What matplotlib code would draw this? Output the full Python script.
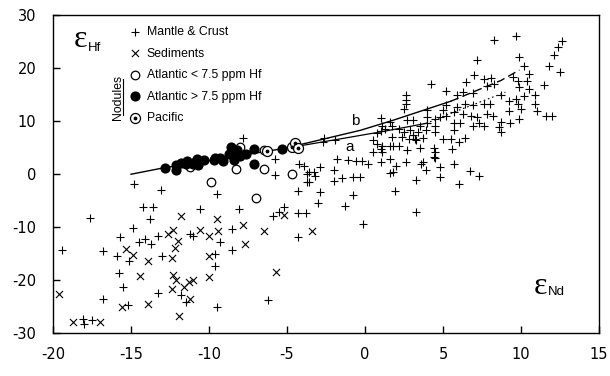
import matplotlib
matplotlib.use("Agg")
import matplotlib.pyplot as plt
from matplotlib.lines import Line2D

plt.rcParams["axes.unicode_minus"] = False

# ---------------- data ----------------
mantle_x = [-14.8, -13.1, -14.2, -13.6, -13.8, -17.6, -14.9, -15.7, -14.5, -14.1, -13.7, -13.3,
            -19.4, -16.8, -15.9, -15.1, -13.0, -15.8, -15.5, -16.8, -15.2, -13.3, -18.1, -18.0,
            -17.5, -11.8, -9.5, -10.6, -8.1, -11.2, -11.0, -8.5, -9.3, -9.6, -9.6, -8.5,
            -11.5, -9.5, -6.2, -5.9, -5.5, -5.2, -4.3, -3.8, -4.3, -5.8, -4.3, -3.7,
            -3.7, -4.2, -3.9, -7.8, -5.8, -2.6, -1.9, -2.7, 1.0, 1.6, 1.1, 1.3,
            1.0, 4.0, 4.0, 4.0, 4.5, 4.5, 4.5, 5.0, 5.2, 4.8, 3.1, 3.5,
            3.9, 3.4, 3.7, 3.2, 2.2, 2.5, 2.4, 2.8, 0.5, 0.8, 1.1, 1.6,
            1.8, 0.5, 1.1, 2.7, 3.5, 4.4, 4.5, 5.0, 4.5, 4.8, 4.8, 3.9,
            3.7, -1.8, -1.1, -0.6, -0.2, 0.2, 1.0, 1.6, 2.0, 2.6, -2.0, -1.5,
            -2.0, -0.8, -0.3, 1.6, 3.3, -3.6, -3.3, -2.9, -3.2, -3.6, -2.9, -0.8,
            1.9, -3.0, -1.3, -0.1, 3.3, 4.2, 5.2, 2.6, 2.6, 2.6, 2.5, 1.7,
            3.6, 4.4, 6.0, 6.7, 7.3, 5.7, 0.8, 1.7, 2.9, 3.1, 3.3, 2.7,
            1.0, 2.2, 1.8, 8.3, 9.7, 12.6, 12.4, 12.1, 11.8, 12.5, 11.5, 11.6,
            12.0, 7.2, 9.9, 10.2, 10.5, 5.9, 6.3, 6.9, 7.0, 6.5, 7.6, 8.1,
            7.8, 8.3, 9.5, 9.8, 10.4, 9.9, 10.5, 10.9, 10.2, 9.7, 9.2, 8.7,
            10.9, 10.0, 11.0, 9.9, 9.3, 8.7, 8.6, 8.7, 8.2, 9.2, 9.8, 7.6,
            8.0, 6.9, 6.4, 5.9, 5.2, 5.7, 6.3, 6.8, 7.2, 7.8, 7.3, 7.6,
            6.9, 5.7, 6.1, 5.7, 5.5, 6.0, 6.4, 5.6]
mantle_y = [-1.9, -3.0, -6.2, -6.2, -8.4, -8.2, -10.2, -11.9, -12.8, -12.2, -13.1, -11.7,
            -14.3, -14.5, -15.4, -16.4, -15.5, -18.6, -21.4, -23.6, -24.8, -22.4, -27.4, -28.3,
            -27.5, -22.8, -3.8, -6.5, -6.5, -11.3, -11.7, -10.3, -12.8, -15.0, -17.4, -14.3,
            -24.1, -25.0, -23.8, -7.9, -7.2, -6.2, -7.3, -7.3, -11.8, -0.1, -3.1, 0.1,
            -1.4, 1.9, 1.5, 6.9, 2.8, 6.9, 6.5, 6.0, 10.7, 9.9, 9.2, 8.6,
            8.2, 12.1, 10.9, 9.6, 10.5, 9.2, 8.0, 12.1, 11.1, 10.8, 10.2, 9.2,
            8.3, 8.0, 6.9, 6.7, 8.6, 8.0, 7.0, 6.7, 6.4, 5.8, 5.3, 5.3,
            5.3, 4.2, 4.2, 4.5, 5.0, 5.0, 4.2, 6.7, 3.0, 1.4, -0.6, 0.8,
            2.3, 2.8, 2.6, 2.5, 2.5, 2.0, 2.3, 2.8, 1.5, 2.3, 0.8, -0.8,
            -1.3, -0.6, -0.6, 0.3, -1.0, 0.4, 0.4, 1.3, -0.4, -1.5, -3.3, -4.0,
            -3.1, -5.5, -6.0, -9.4, -7.1, 17.0, 15.7, 14.9, 14.1, 13.3, 12.4, 7.0,
            2.0, 3.3, -1.8, 0.6, -0.4, 2.0, 7.7, 9.2, 8.3, 7.4, 6.5, 10.2,
            4.7, 5.3, 0.4, 25.3, 26.1, 25.1, 24.0, 22.5, 20.4, 19.3, 16.8, 11.1,
            11.1, 21.5, 22.1, 20.4, 19.0, 15.0, 15.5, 15.3, 18.7, 17.4, 18.0, 18.2,
            16.7, 17.1, 18.3, 17.7, 17.7, 16.5, 16.2, 14.9, 14.8, 14.3, 13.8, 14.9,
            13.3, 12.4, 11.9, 10.5, 9.6, 9.9, 8.9, 7.9, 11.1, 12.0, 13.3, 13.3,
            13.3, 13.0, 13.3, 12.7, 13.0, 11.8, 11.3, 11.1, 10.8, 11.4, 9.6, 9.2,
            9.2, 9.6, 9.6, 8.3, 6.6, 6.0, 6.9, 4.8]

sed_x = [-19.6, -18.7, -17.0, -15.6, -15.3, -14.9, -13.9, -14.4, -13.9, -12.6, -12.3, -12.0,
         -12.2, -12.4, -12.3, -12.1, -12.4, -11.9, -11.8, -10.6, -9.5, -10.0, -9.4, -7.8,
         -7.7, -6.5, -10.0, -10.0, -11.0, -11.3, -11.6, -11.2, -5.7, -5.2, -3.4]
sed_y = [-22.6, -28.0, -27.9, -25.0, -14.2, -15.2, -16.4, -19.2, -24.5, -11.3, -10.6, -12.7,
         -14.0, -15.8, -19.0, -19.9, -21.6, -26.8, -7.9, -10.6, -8.4, -11.7, -10.8, -9.6,
         -13.2, -10.8, -15.5, -19.5, -19.9, -20.4, -21.3, -23.5, -18.4, -7.7, -10.7]

atl_low_x = [-11.2, -8.3, -6.5, -4.7, -9.9, -7.0, -8.0, -6.5]
atl_low_y = [1.3, 1.0, 0.9, 0.0, -1.5, -4.4, 5.2, 4.5]

atl_high_x = [-12.8, -12.1, -11.8, -11.5, -11.4, -10.9, -10.8, -10.3, -9.7, -9.6, -9.3, -9.1,
              -8.7, -8.6, -8.3, -8.2, -8.0, -7.6, -7.1, -7.1, -5.3, -12.1, -11.0, -10.7, -8.4]
atl_high_y = [1.1, 1.7, 2.1, 2.0, 2.5, 2.3, 2.8, 2.6, 2.6, 3.1, 3.1, 2.5,
              3.9, 5.2, 3.9, 4.5, 3.4, 3.9, 4.8, 1.9, 4.8, 0.8, 1.9, 1.8, 2.6]

pac_x = [-6.3, -4.7, -4.5, -4.3]
pac_y = [4.4, 5.2, 5.9, 5.0]

# mixing lines
trend_x = [-15.0, -13.1, -4.3]
trend_y = [0.0, 1.1, 5.3]
b_solid_x = [-4.3, -0.3, 1.8, 5.5]
b_solid_y = [5.5, 8.3, 10.2, 13.8]
b_dash_x = [5.5, 8.7, 9.9]
b_dash_y = [13.8, 17.7, 19.7]
a_solid_x = [-4.3, 1.0, 3.9]
a_solid_y = [5.3, 8.0, 9.6]
a_dot_x = [3.9, 6.1, 9.0]
a_dot_y = [9.6, 12.2, 15.5]

x_ticks = [-20, -15, -10, -5, 0, 5, 10, 15]
y_ticks = [-30, -20, -10, 0, 10, 20, 30]

legend_labels = ["Mantle & Crust", "Sediments", "Atlantic < 7.5 ppm Hf",
                 "Atlantic > 7.5 ppm Hf", "Pacific"]

# ---------------- figure ----------------
fig = plt.figure(figsize=(6.10, 3.76), dpi=100)
ax = fig.add_axes([0.0869, 0.1144, 0.8951, 0.8444])
ax.set_xlim(-20, 15)
ax.set_ylim(-30, 30)

lab_font = "Liberation Sans"

ax.plot(trend_x, trend_y, color="black", lw=1.0, zorder=1)
ax.plot(b_solid_x, b_solid_y, color="black", lw=1.0, zorder=1)
ax.plot(b_dash_x, b_dash_y, color="black", lw=1.0, ls=(0, (6, 3)), zorder=1)
ax.plot(a_solid_x, a_solid_y, color="black", lw=0.9, zorder=1)
ax.plot(a_dot_x, a_dot_y, color="black", lw=0.8, ls=(0, (1.5, 2.5)), zorder=1)

h_m = ax.scatter(mantle_x, mantle_y, marker="+", s=34, c="black", linewidths=0.8, zorder=2)
h_s = ax.scatter(sed_x, sed_y, marker="x", s=26, c="black", linewidths=0.8, zorder=2)
h_l = ax.scatter(atl_low_x, atl_low_y, marker="o", s=38, facecolors="white",
                 edgecolors="black", linewidths=0.9, zorder=3)
h_h = ax.scatter(atl_high_x, atl_high_y, marker="o", s=40, c="black", zorder=3)
h_p1 = ax.scatter(pac_x, pac_y, marker="o", s=52, facecolors="white",
                  edgecolors="black", linewidths=0.9, zorder=4)
h_p2 = ax.scatter(pac_x, pac_y, marker="o", s=3, c="black", zorder=5)

leg = ax.legend([h_m, h_s, h_l, h_h, (h_p1, h_p2)], legend_labels,
                loc="upper left", bbox_to_anchor=(0.139, 0.967), frameon=False,
                borderpad=0, borderaxespad=0, handlelength=1.0, handletextpad=0.45,
                labelspacing=0.78, scatterpoints=1,
                prop={"family": lab_font, "size": 8.8})

ax.text(0.119, 0.742, "Nodules", transform=ax.transAxes, rotation=90,
        ha="center", va="center", fontsize=8.8, family=lab_font)
ax.add_line(Line2D([0.1285, 0.1285], [0.686, 0.799], transform=ax.transAxes,
                   color="black", lw=0.8))

ax.text(0.038, 0.923, "\u03b5", transform=ax.transAxes, ha="left", va="center",
        fontsize=23, family="Liberation Serif")
ax.text(0.064, 0.898, "Hf", transform=ax.transAxes, ha="left", va="center",
        fontsize=9.5, family=lab_font)
ax.text(0.881, 0.147, "\u03b5", transform=ax.transAxes, ha="left", va="center",
        fontsize=23, family="Liberation Serif")
ax.text(0.906, 0.130, "Nd", transform=ax.transAxes, ha="left", va="center",
        fontsize=9.5, family=lab_font)

ax.text(-0.6, 10.0, "b", ha="center", va="center", fontsize=11, family=lab_font)
ax.text(-1.0, 5.1, "a", ha="center", va="center", fontsize=11, family=lab_font)

ax.set_xticks(x_ticks)
ax.set_yticks(y_ticks)
ax.tick_params(direction="in", length=5, width=1.0, labelsize=10.5)
ax.tick_params(axis="y", pad=12)
ax.tick_params(axis="x", pad=10)
for lab in ax.get_xticklabels() + ax.get_yticklabels():
    lab.set_family("DejaVu Sans")
for sp in ax.spines.values():
    sp.set_linewidth(1.0)

fig.savefig("out.png", dpi=100)
